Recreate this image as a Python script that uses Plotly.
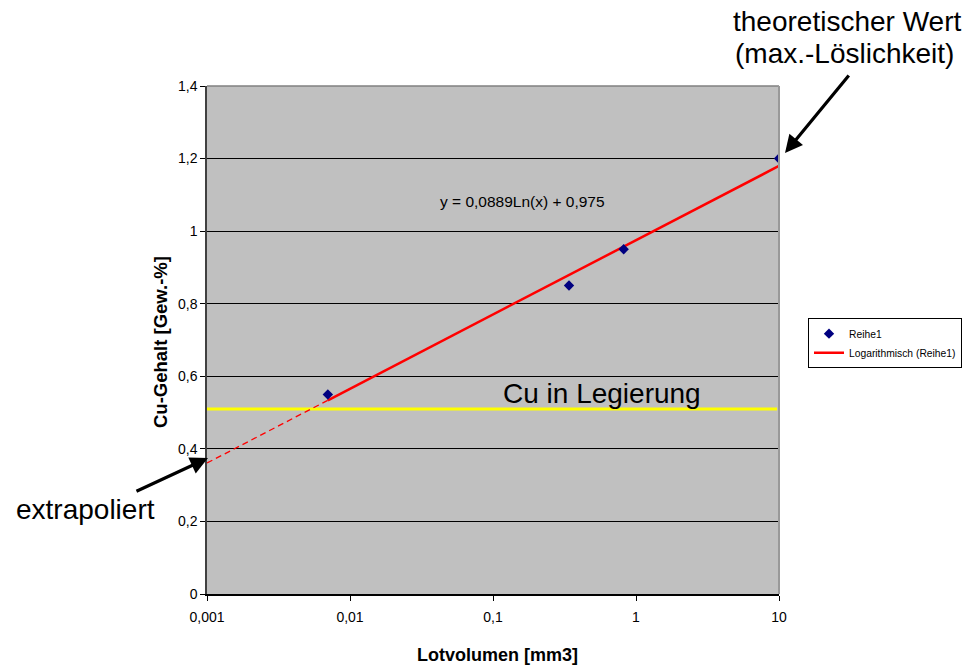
import numpy as np
import plotly.graph_objects as go

# Measured series
lotvolumen = [0.007, 0.34, 0.82, 10.0]      # mm3
cu_gehalt = [0.55, 0.85, 0.95, 1.20]        # Gew.-%

# Logarithmic trend fit: y = A*ln(x) + B
fit_a = 0.0889
fit_b = 0.975
x_extrapolate_start = 0.001

# Cu content of the alloy
cu_legierung = 0.51
cu_legierung_x = [0.001, 9.7]

x_tickvals = [0.001, 0.01, 0.1, 1, 10]
x_ticktext = ["0,001", "0,01", "0,1", "1", "10"]
y_tickvals = [0, 0.2, 0.4, 0.6, 0.8, 1.0, 1.2, 1.4]
y_ticktext = ["0", "0,2", "0,4", "0,6", "0,8", "1", "1,2", "1,4"]

FONT = "Liberation Sans, Arial, sans-serif"


def trend(x):
    return fit_a * np.log(np.asarray(x)) + fit_b


x_solid = np.geomspace(min(lotvolumen), max(lotvolumen), 20)
x_dash = np.geomspace(x_extrapolate_start, min(lotvolumen), 10)

fig = go.Figure()

fig.add_trace(go.Scatter(
    x=cu_legierung_x, y=[cu_legierung] * len(cu_legierung_x),
    mode="lines", line=dict(color="#FFFF00", width=3),
    showlegend=False, hoverinfo="skip"))

fig.add_trace(go.Scatter(
    x=x_dash, y=trend(x_dash), mode="lines",
    line=dict(color="#FF0000", width=1.3, dash="6px,4px"),
    showlegend=False, hoverinfo="skip"))

fig.add_trace(go.Scatter(
    x=x_solid, y=trend(x_solid), mode="lines",
    name="Logarithmisch (Reihe1)", legendrank=2,
    line=dict(color="#FF0000", width=2.5)))

# Markers drawn last so they sit on top of the trend line
fig.add_trace(go.Scatter(
    x=lotvolumen, y=cu_gehalt, mode="markers", name="Reihe1",
    legendrank=1,
    marker=dict(symbol="diamond", size=8, color="#000080")))

annotations = [
    dict(text="y = 0,0889Ln(x) + 0,975", x=0.5524, y=0.7736,
         font=dict(size=15.5)),
    dict(text="Cu in Legierung", x=0.6906, y=0.395, font=dict(size=28)),
    dict(text="theoretischer Wert", x=1.1189, y=1.126, font=dict(size=28)),
    dict(text="(max.-Löslichkeit)", x=1.1145, y=1.063, font=dict(size=28)),
    dict(text="extrapoliert", x=-0.2124, y=0.1654, font=dict(size=28)),
    dict(text="<b>Lotvolumen [mm3]</b>", x=0.507, y=-0.12,
         font=dict(size=18)),
    dict(text="<b>Cu-Gehalt [Gew.-%]</b>", x=-0.0822, y=0.496,
         textangle=-90, font=dict(size=18.5)),
]
for a in annotations:
    a.update(xref="paper", yref="paper", showarrow=False,
             xanchor="center", yanchor="middle")
    a["font"].update(family=FONT, color="black")

# Pointer arrows
for hx, hy, ax, ay in [(1.0105, 0.868, 65, -79), (0.0017, 0.2677, -73, 34)]:
    annotations.append(dict(
        text="", xref="paper", yref="paper", x=hx, y=hy, ax=ax, ay=ay,
        showarrow=True, arrowhead=2, arrowsize=1.1, arrowwidth=3.2,
        arrowcolor="black"))

fig.update_layout(
    width=971, height=668,
    margin=dict(l=207, r=192, t=86, b=74, autoexpand=False),
    paper_bgcolor="white", plot_bgcolor="#C0C0C0",
    font=dict(family=FONT, color="black", size=13),
    annotations=annotations,
    legend=dict(x=1.0507, y=0.543, xanchor="left", yanchor="top",
                bgcolor="white", bordercolor="black", borderwidth=1,
                font=dict(size=10.3, family=FONT), tracegroupgap=0,
                traceorder="normal"),
    shapes=[
        dict(type="line", xref="paper", yref="paper", x0=0, x1=1, y0=1, y1=1,
             line=dict(color="#808080", width=1.5)),
        dict(type="line", xref="paper", yref="paper", x0=1, x1=1, y0=0, y1=1,
             line=dict(color="#999999", width=2)),
    ],
)

fig.update_xaxes(
    type="log", range=[-3, 1], tickvals=x_tickvals, ticktext=x_ticktext,
    showgrid=False, zeroline=False, showline=True, linecolor="black",
    linewidth=1.5, ticks="outside", ticklen=5, tickcolor="black",
    ticklabelstandoff=4, tickfont=dict(size=14))

fig.update_yaxes(
    range=[0, 1.4], tickvals=y_tickvals, ticktext=y_ticktext,
    showgrid=True, gridcolor="black", gridwidth=1, zeroline=False,
    showline=True, linecolor="#404040", linewidth=1.5, ticks="outside",
    ticklen=5, tickcolor="black", tickfont=dict(size=14))

fig.write_html("out.html")
